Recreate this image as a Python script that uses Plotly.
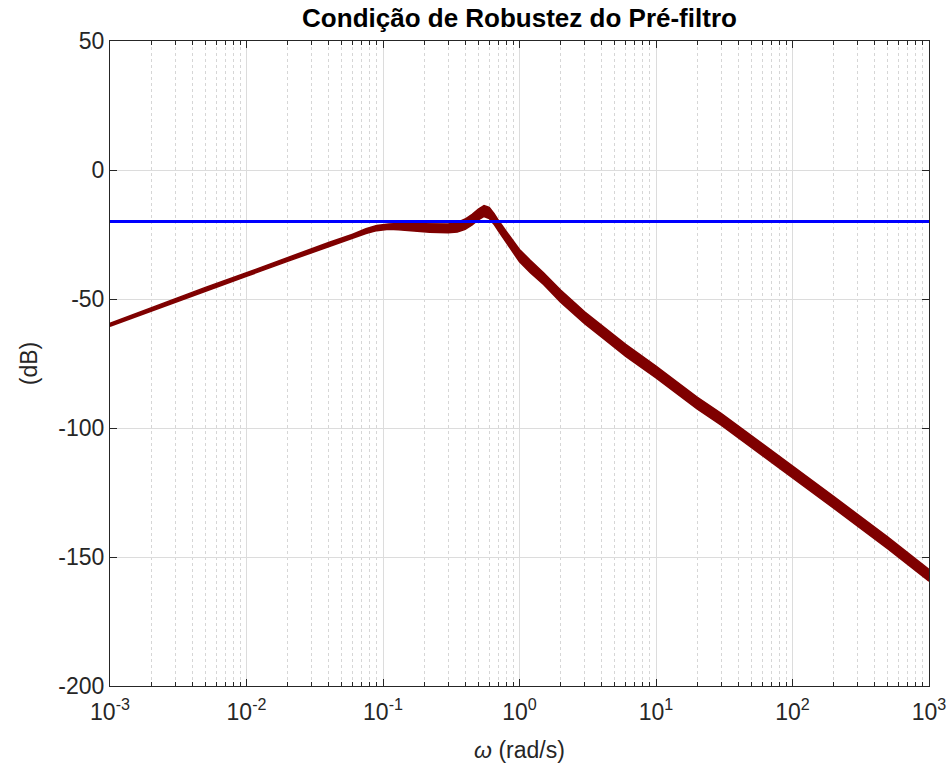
import plotly.graph_objects as go

# Frequencies (rad/s)
w = [1e-3, 2e-3, 5e-3, 1e-2, 2e-2, 4e-2, 0.06, 0.075, 0.09, 0.11, 0.13, 0.17, 0.22, 0.3,
     0.35, 0.4, 0.45, 0.5, 0.55, 0.6, 0.65, 0.7, 0.8, 0.9, 1.0, 1.2, 1.5, 2.0, 3.0,
     4.0, 6.0, 10.0, 20.0, 30.0, 50.0, 100.0, 200.0, 500.0, 1000.0]
# Upper and lower edges of the family of magnitude curves (dB)
mag_upper = [-59.4, -53.4, -45.5, -39.8, -33.9, -28.1, -24.9, -22.8, -21.5, -20.9,
             -20.7, -20.8, -21.0, -20.9, -20.3, -19.0, -17.2, -15.2, -13.8, -14.5,
             -16.8, -19.5, -23.8, -27.6, -30.8, -35.0, -39.8, -46.5, -55.0, -60.2,
             -67.6, -76.0, -88.0, -94.3, -103.0, -114.5, -126.5, -142.3, -154.8]
mag_lower = [-60.6, -54.7, -46.8, -41.2, -35.4, -29.7, -26.5, -24.6, -23.5, -23.0,
             -23.2, -23.7, -24.1, -24.3, -24.0, -23.0, -21.3, -19.3, -18.0, -18.8,
             -21.0, -23.6, -28.0, -32.0, -35.6, -39.8, -44.4, -51.2, -59.6, -64.8,
             -72.2, -80.6, -92.6, -98.9, -107.6, -119.1, -131.1, -146.9, -159.4]
# Robustness bound
bound_w = [1e-3, 1e3]
bound_db = [-20, -20]

x_tickvals = [1e-3, 1e-2, 1e-1, 1e0, 1e1, 1e2, 1e3]
x_ticktext = ["10<sup>-3</sup>", "10<sup>-2</sup>", "10<sup>-1</sup>", "10<sup>0</sup>",
              "10<sup>1</sup>", "10<sup>2</sup>", "10<sup>3</sup>"]
y_tickvals = [-200, -150, -100, -50, 0, 50]
y_ticktext = ["-200", "-150", "-100", "-50", "0", "50"]

minor_vals = [k * 10.0 ** n for n in range(-3, 3) for k in range(2, 10)]

red = "#7f0000"
fig = go.Figure()
fig.add_trace(go.Scatter(x=w, y=mag_upper, mode="lines",
                         line=dict(color=red, width=1.5),
                         showlegend=False, hoverinfo="skip"))
fig.add_trace(go.Scatter(x=w, y=mag_lower, mode="lines",
                         line=dict(color=red, width=1.5),
                         fill="tonexty", fillcolor=red,
                         showlegend=False, hoverinfo="skip"))
fig.add_trace(go.Scatter(x=bound_w, y=bound_db, mode="lines",
                         line=dict(color="#0000ff", width=3),
                         showlegend=False, hoverinfo="skip"))

font_main = "Liberation Sans, Arial, Helvetica, sans-serif"
axis_col = "#262626"
fig.update_layout(
    width=951, height=776,
    margin=dict(l=110, r=22, t=41, b=90, autoexpand=False),
    paper_bgcolor="white", plot_bgcolor="white",
    font=dict(family=font_main, size=23, color=axis_col),
    title=dict(text="<b>Condição de Robustez do Pré-filtro</b>", x=0.5, xref="paper",
               xanchor="center", y=0.977, yanchor="middle",
               font=dict(size=26, color="#000000")),
)
fig.update_xaxes(
    type="log", range=[-3, 3], automargin=False,
    tickvals=x_tickvals, ticktext=x_ticktext, ticklabelstandoff=5,
    ticks="inside", ticklen=7, tickcolor=axis_col, tickwidth=1,
    showline=True, linecolor=axis_col, linewidth=1, mirror="ticks",
    showgrid=True, gridcolor="#dcdcdc", gridwidth=1,
    zeroline=False,
    minor=dict(tickvals=minor_vals, ticks="inside", ticklen=4, tickcolor=axis_col,
               showgrid=True, gridcolor="#d6d6d6", griddash="dot", gridwidth=1),
    title=dict(text="<i>ω</i> (rad/s)", font=dict(size=23, color=axis_col), standoff=18),
    tickfont=dict(size=23, color=axis_col),
)
fig.update_yaxes(
    range=[-200, 50], tickvals=y_tickvals, ticktext=y_ticktext, automargin=False,
    ticks="inside", ticklen=7, tickcolor=axis_col, tickwidth=1,
    showline=True, linecolor=axis_col, linewidth=1, mirror="ticks",
    showgrid=True, gridcolor="#dcdcdc", gridwidth=1,
    zeroline=False,
    title=dict(text="(dB)", font=dict(size=23, color=axis_col), standoff=14),
    tickfont=dict(size=23, color=axis_col),
)

fig.write_html("out.html")
